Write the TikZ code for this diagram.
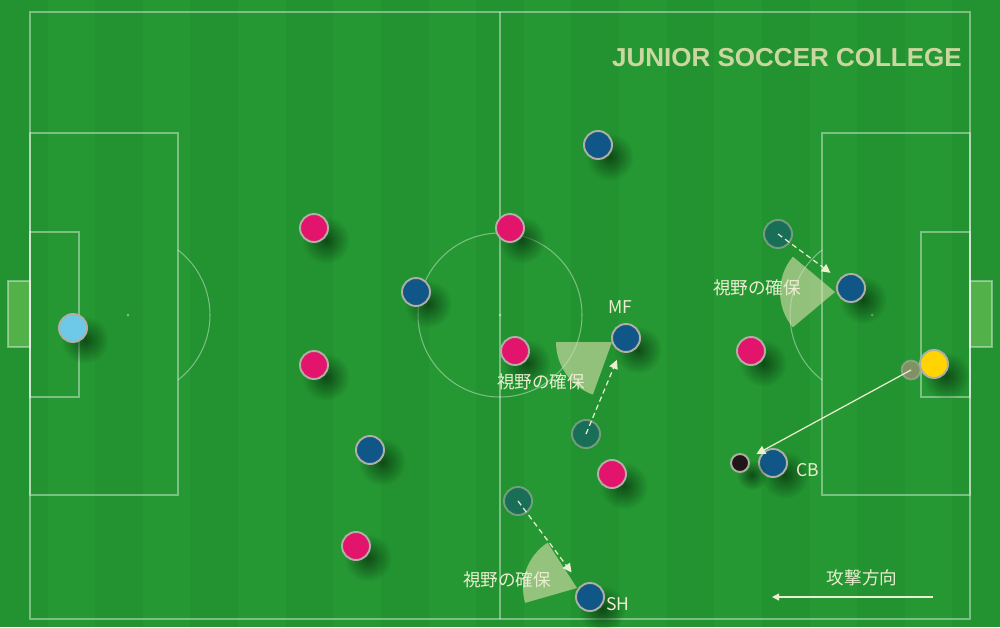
\documentclass[tikz,border=0pt]{standalone}
\usepackage{fontspec}
\setmainfont{Noto Sans CJK JP}
\newfontfamily\titlefont{Liberation Sans}
\usetikzlibrary{shadows,fadings,arrows.meta}
\definecolor{turf}{RGB}{34,147,48}
\definecolor{turflight}{RGB}{37,152,51}
\definecolor{goalfill}{RGB}{95,185,80}
\definecolor{pinkp}{RGB}{226,20,108}
\definecolor{bluep}{RGB}{16,86,134}
\definecolor{keeper}{RGB}{110,200,232}
\definecolor{yellowp}{RGB}{255,212,0}
\definecolor{ghost}{RGB}{24,110,86}
\definecolor{ghostgray}{RGB}{128,146,100}
\definecolor{rim}{RGB}{175,175,165}
\definecolor{viewfill}{RGB}{215,222,172}
\definecolor{cream}{RGB}{236,238,210}
\definecolor{titlecol}{RGB}{204,214,160}
\tikzfading[name=softshadow, inner color=transparent!10, outer color=transparent!100]

\begin{document}
\begin{tikzpicture}[x=0.02cm, y=0.02cm,
    pitchline/.style={draw=white, draw opacity=0.4, line width=0.6pt},
    player/.style={circle, draw=rim, line width=1.1pt, minimum size=0.56cm, inner sep=0pt,
        circular drop shadow={shadow xshift=4pt, shadow yshift=-4pt, shadow scale=1.7, opacity=0.75, fill={rgb,255:red,5;green,40;blue,10}, path fading=softshadow}},
    ghostp/.style={circle, draw=rim, draw opacity=0.6, line width=1.1pt, minimum size=0.56cm, inner sep=0pt, fill=ghost},
    view/.style={fill=viewfill, fill opacity=0.62},
    run/.style={draw=cream, line width=0.7pt, dash pattern=on 3pt off 2pt, -{Triangle[width=5pt,length=5pt]}},
    pass/.style={draw=cream, line width=0.7pt, -{Triangle[width=5pt,length=5pt]}},
    label/.style={text=cream, font=\fontsize{10}{12}\selectfont, inner sep=1pt}]

    % Turf
    \fill[turf] (0,0) rectangle (1000,627);
    \foreach \i in {1,3,...,19}
        \fill[turflight] (\i*47.62,0) rectangle ++(47.62,627);

    % Pitch
    \fill[goalfill, fill opacity=0.8] (8,280) rectangle (30,346);
    \fill[goalfill, fill opacity=0.8] (970,280) rectangle (992,346);
    \draw[pitchline] (8,280) rectangle (30,346);
    \draw[pitchline] (970,280) rectangle (992,346);
    \draw[pitchline] (30,8) rectangle (970,615);
    \draw[pitchline] (500,8) -- (500,615);
    \draw[pitchline] (500,312) circle[radius=82];
    \fill[white, opacity=0.4] (500,312) circle[radius=1.5];
    \draw[pitchline] (30,132) rectangle (178,494);
    \draw[pitchline] (30,230) rectangle (79,395);
    \draw[pitchline] (822,132) rectangle (970,494);
    \draw[pitchline] (921,230) rectangle (970,395);
    \fill[white, opacity=0.4] (128,312) circle[radius=1.5];
    \fill[white, opacity=0.4] (872,312) circle[radius=1.5];
    \draw[pitchline] (128,312) ++(-52.4:82) arc[start angle=-52.4, end angle=52.4, radius=82];
    \draw[pitchline] (872,312) ++(127.6:82) arc[start angle=127.6, end angle=232.4, radius=82];

    % Fields of view
    \fill[view] (835,335) -- ++(140:55) arc[start angle=140, end angle=220, radius=55] -- cycle;
    \fill[view] (612,285) -- ++(180:56) arc[start angle=180, end angle=250, radius=56] -- cycle;
    \fill[view] (577,39) -- ++(123:54) arc[start angle=123, end angle=196, radius=54] -- cycle;

    % Nodes
    \node[player, fill=keeper] (GK) at (73,299) {};
    \node[player, fill=pinkp] (P1) at (314,399) {};
    \node[player, fill=pinkp] (P2) at (510,399) {};
    \node[player, fill=pinkp] (P3) at (314,262) {};
    \node[player, fill=pinkp] (P4) at (515,276) {};
    \node[player, fill=pinkp] (P5) at (751,276) {};
    \node[player, fill=pinkp] (P6) at (612,153) {};
    \node[player, fill=pinkp] (P7) at (356,81) {};
    \node[player, fill=bluep] (B1) at (598,482) {};
    \node[player, fill=bluep] (B2) at (416,335) {};
    \node[player, fill=bluep] (MF) at (626,289) {};
    \node[player, fill=bluep] (B3) at (370,177) {};
    \node[player, fill=bluep] (B4) at (851,339) {};
    \node[player, fill=bluep] (CB) at (773,164) {};
    \node[player, fill=bluep] (SH) at (590,30) {};
    \node[player, fill=yellowp] (YL) at (934,263) {};
    \node[ghostp] (G1) at (778,393) {};
    \node[ghostp] (G2) at (586,193) {};
    \node[ghostp] (G3) at (518,126) {};
    \node[circle, draw=rim, draw opacity=0.6, line width=1pt, fill=ghostgray, minimum size=0.38cm, inner sep=0pt] (GY) at (911,257) {};
    \node[player, fill={rgb,255:red,32;green,22;blue,22}, minimum size=0.36cm] (BALL) at (740,164) {};

    % Arrows
    \draw[run, shorten >=6pt] (G1.center) -- (B4);
    \draw[run, shorten >=5pt] (G2.center) -- (MF);
    \draw[run, shorten >=9pt] (G3.center) -- (SH);
    \draw[pass, shorten >=5pt] (GY.center) -- (BALL);

    % Labels
    \node[label] (MFl) at (620,320) {MF};
    \node[label] (CBl) at (808,157) {CB};
    \node[label] (SHl) at (618,23) {SH};
    \node[label] (V1) at (757,339) {視野の確保};
    \node[label] (V2) at (541,245) {視野の確保};
    \node[label] (V3) at (507,47) {視野の確保};
    \node[label] (DIR) at (862,49) {攻撃方向};
    \coordinate (DIRs) at (933,30);
    \coordinate (DIRe) at (772,30);
    \draw[draw=cream, line width=0.6pt, -{Triangle[width=4pt,length=4pt]}] (DIRs) -- (DIRe);
    \node[text=titlecol, font=\titlefont\bfseries\fontsize{14.8}{17}\selectfont] (TITLE) at (787,569) {JUNIOR SOCCER COLLEGE};
\end{tikzpicture}
\end{document}
